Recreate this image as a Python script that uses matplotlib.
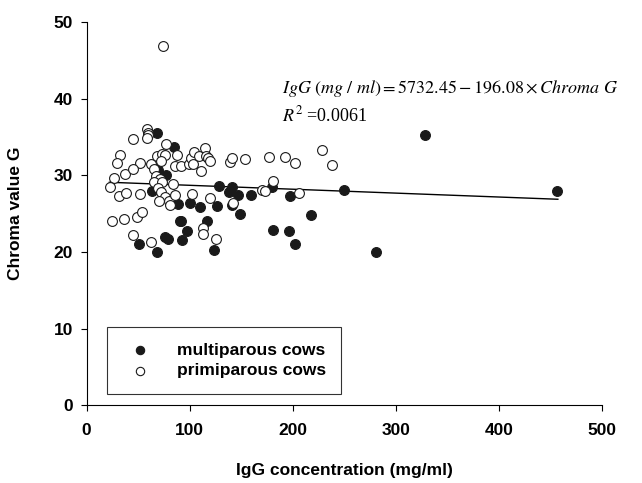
import matplotlib

matplotlib.use("Agg")
import matplotlib.pyplot as plt
import numpy as np

plt.rcParams["font.family"] = ["Liberation Sans", "DejaVu Sans"]

# multiparous cows (filled)
multi_x = [68.6, 84.7, 69.4, 77.0, 62.9, 128.5, 141.1, 137.7, 146.8, 159.0,
           180.0, 196.8, 249.8, 328.0, 455.8, 88.5, 100.3, 110.2, 126.6, 141.1,
           148.7, 90.4, 91.2, 116.3, 96.9, 76.3, 79.0, 92.7, 50.7, 68.6,
           123.2, 180.4, 196.4, 202.5, 217.4, 281.0]
multi_y = [35.6, 33.75, 30.7, 30.1, 28.0, 28.6, 28.45, 27.8, 27.4, 27.4,
           28.5, 27.3, 28.1, 35.3, 28.0, 26.3, 26.4, 25.9, 26.0, 26.1,
           25.0, 24.1, 24.0, 24.0, 22.8, 22.0, 21.7, 21.55, 21.0, 20.0,
           20.3, 22.9, 22.8, 21.0, 24.8, 20.0]

# primiparous cows (open)
primi_x = [74.4, 58.4, 59.2, 59.9, 58.7, 45.4, 77.0, 32.4, 29.4, 52.2,
           62.5, 26.7, 37.0, 44.6, 22.9, 31.7, 38.1, 52.2, 24.4, 35.9,
           48.8, 53.4, 44.6, 62.2, 68.6, 73.2, 75.9, 72.5, 65.6, 67.5,
           71.3, 64.9, 73.2, 69.4, 72.1, 76.3, 70.6, 80.1, 80.5, 83.5,
           85.8, 85.4, 87.3, 91.9, 98.8, 101.1, 103.7, 103.4, 109.1, 111.0,
           102.6, 114.8, 115.9, 117.8, 119.4, 119.8, 112.5, 113.3, 125.9, 139.2,
           140.7, 153.7, 141.9, 170.5, 172.8, 177.3, 180.8, 192.6, 202.5, 206.3,
           228.5, 238.4]
primi_y = [46.85, 36.1, 35.6, 35.3, 34.9, 34.8, 34.1, 32.7, 31.6, 31.6,
           31.5, 29.7, 30.2, 30.8, 28.5, 27.3, 27.7, 27.6, 24.0, 24.3,
           24.6, 25.2, 22.2, 21.25, 32.5, 32.8, 32.7, 31.9, 30.8, 29.9,
           29.5, 29.1, 29.1, 28.4, 27.9, 27.2, 26.7, 26.7, 26.1, 28.9,
           27.5, 31.25, 32.7, 31.2, 31.5, 32.3, 33.0, 31.55, 32.5, 30.6,
           27.6, 33.6, 32.5, 32.3, 31.9, 27.1, 23.1, 22.3, 21.7, 31.8,
           32.3, 32.1, 26.4, 28.1, 28.0, 32.4, 29.3, 32.4, 31.6, 27.7,
           33.3, 31.4]

# regression line as drawn (intercept, slope) over the data range
line_intercept = 29.22
line_slope = -0.0051
line_x_range = [22.0, 457.0]

x_ticks = [0, 100, 200, 300, 400, 500]
y_ticks = [0, 10, 20, 30, 40, 50]

fig = plt.figure(figsize=(6.42, 4.83), dpi=100)
ax = fig.add_axes([0.135, 0.161, 0.803, 0.793])

ms = 50
ax.scatter(multi_x, multi_y, s=ms, c="#1a1a1a", edgecolors="#1a1a1a",
           linewidths=0.8, label="multiparous cows", zorder=3)
ax.scatter(primi_x, primi_y, s=ms, facecolors="white", edgecolors="#1a1a1a",
           linewidths=0.8, label="primiparous cows", zorder=3)

lx = np.array(line_x_range)
ax.plot(lx, line_intercept + line_slope * lx, color="black", lw=1.0, zorder=2)

ax.set_xlim(0, 500)
ax.set_ylim(0, 50)
ax.set_xticks(x_ticks)
ax.set_yticks(y_ticks)
ax.spines["top"].set_visible(False)
ax.spines["right"].set_visible(False)
for sp in ("left", "bottom"):
    ax.spines[sp].set_linewidth(0.8)
ax.tick_params(direction="out", length=4, width=0.8, labelsize=12.5, pad=6)
ax.tick_params(axis="x", pad=9)
for lab in ax.get_xticklabels() + ax.get_yticklabels():
    lab.set_fontweight("bold")

ax.set_xlabel("IgG concentration (mg/ml)", fontsize=12.5, fontweight="bold",
              labelpad=18)
ax.set_ylabel("Chroma value G", fontsize=12.5, fontweight="bold", labelpad=22)

ax.text(189, 41.4, r"$IgG\ (mg\ /\ ml) = 5732.45 - 196.08 \times Chroma\ G$",
        fontsize=13, family="Liberation Serif", math_fontfamily="stix",
        va="center")
ax.text(189, 37.8, r"$R^2$ =0.0061", fontsize=13, family="Liberation Serif",
        math_fontfamily="stix", va="center")

leg = ax.legend(loc="lower left", bbox_to_anchor=(0.04, 0.03), frameon=True,
                fancybox=False, edgecolor="black", prop={"weight": "bold", "size": 12.5},
                borderpad=0.9, handletextpad=1.1, labelspacing=0.3,
                borderaxespad=0, markerscale=0.85)
leg.get_frame().set_linewidth(0.8)

fig.savefig("out.png", dpi=100)
